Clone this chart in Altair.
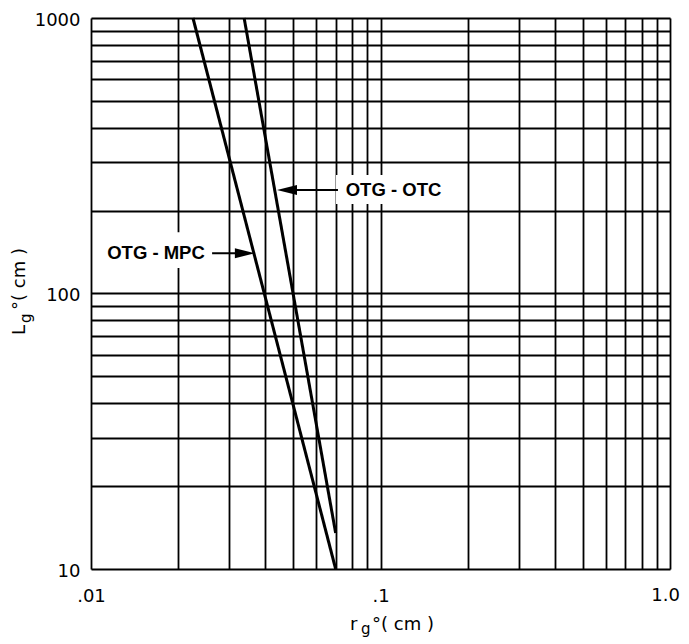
import altair as alt
import pandas as pd

# ---- data ----
x_grid = [0.01, 0.02, 0.03, 0.04, 0.05, 0.06, 0.07, 0.08, 0.09,
          0.1, 0.2, 0.3, 0.4, 0.5, 0.6, 0.7, 0.8, 0.9, 1.0]
y_grid = [10, 20, 30, 40, 50, 60, 70, 80, 90,
          100, 200, 300, 400, 500, 600, 700, 800, 900, 1000]

series = ["OTG-MPC", "OTG-MPC", "OTG-OTC", "OTG-OTC"]
r_vals = [0.0225, 0.070, 0.0338, 0.070]
L_vals = [1000, 10, 1000, 13.5]

# last x tick label drawn as its own text (kept inside the page)
end_label = ["1.0"]
end_r = [1.0]
end_L = [10]

# annotation labels (data coordinates)
label_text = ["OTG - MPC", "OTG - OTC"]
label_r = [0.01677, 0.1109]
label_L = [140, 237.5]
box_r1 = [0.01074, 0.0702]
box_r2 = [0.02576, 0.1766]
box_L1 = [123.8, 211.5]
box_L2 = [167, 269]
shaft_r1 = [0.0262, 0.04753]
shaft_r2 = [0.0340, 0.0713]
head_r = [0.0340, 0.04753]
head_dir = ["right", "left"]

FONT = "DejaVu Sans"
LBL_FONT = "Liberation Sans"


def xenc(field):
    return alt.X(
        f"{field}:Q",
        scale=alt.Scale(type="log", domain=[0.01, 1], nice=False),
        axis=alt.Axis(
            values=x_grid,
            labelExpr="datum.value == 0.01 ? '.01' : (datum.value == 0.1 ? '.1' : '')",
            grid=True, ticks=False, tickSize=0, domain=False, title=None,
            labelFlush=False, labelOverlap=False, labelPadding=18,
            labelFontSize=18, labelFont=FONT, labelColor="black",
            gridColor="black", gridWidth=1.8, gridOpacity=1,
        ),
    )


def yenc(field):
    return alt.Y(
        f"{field}:Q",
        scale=alt.Scale(type="log", domain=[10, 1000], nice=False),
        axis=alt.Axis(
            values=y_grid,
            labelExpr="(datum.value == 10 || datum.value == 100 || datum.value == 1000) ? '' + datum.value : ''",
            grid=True, ticks=False, tickSize=0, domain=False, title=None,
            labelOverlap=False, labelPadding=11, labelOffset=2,
            labelFontSize=18, labelFont=FONT, labelColor="black",
            gridColor="black", gridWidth=1.8, gridOpacity=1,
        ),
    )


lines_df = pd.DataFrame({"series": series, "r": r_vals, "L": L_vals})
ann_df = pd.DataFrame({
    "text": label_text, "r": label_r, "L": label_L,
    "br1": box_r1, "br2": box_r2, "bL1": box_L1, "bL2": box_L2,
    "sr1": shaft_r1, "sr2": shaft_r2, "hr": head_r, "dir": head_dir,
})
end_df = pd.DataFrame({"t": end_label, "r": end_r, "L": end_L})

lines = alt.Chart(lines_df).mark_line(color="black", strokeWidth=3).encode(
    x=xenc("r"), y=yenc("L"), detail="series:N"
)

boxes = alt.Chart(ann_df).mark_rect(fill="white", stroke=None).encode(
    x=xenc("br1"), x2="br2", y=yenc("bL1"), y2="bL2"
)

shafts = alt.Chart(ann_df).mark_rule(color="black", strokeWidth=2).encode(
    x=xenc("sr1"), x2="sr2", y=yenc("L")
)

heads_right = alt.Chart(ann_df).transform_filter("datum.dir == 'right'").mark_point(
    shape="M-1,-0.5L1,0L-1,0.5Z", filled=True, size=400, color="black", opacity=1
).encode(x=xenc("hr"), y=yenc("L"))

heads_left = alt.Chart(ann_df).transform_filter("datum.dir == 'left'").mark_point(
    shape="M1,-0.5L-1,0L1,0.5Z", filled=True, size=400, color="black", opacity=1
).encode(x=xenc("hr"), y=yenc("L"))

labels = alt.Chart(ann_df).mark_text(
    font=LBL_FONT, fontSize=18.5, fontWeight="bold", color="black", align="center", baseline="middle"
).encode(x=xenc("r"), y=yenc("L"), text="text:N")

end_tick = alt.Chart(end_df).mark_text(
    font=FONT, fontSize=18, color="black", align="right", baseline="top", dx=10, dy=18
).encode(x=xenc("r"), y=yenc("L"), text="t:N")


# axis titles built from pieces (subscript g)
def piece(txt, x, y, size=18, dy=0, angle=0):
    return alt.Chart(pd.DataFrame({"t": [txt]})).mark_text(
        font=FONT, fontSize=size, color="black", align="left", baseline="middle",
        dy=dy, angle=angle
    ).encode(x=alt.value(x), y=alt.value(y), text="t:N")


xt1 = piece("r", 259, 607)
xt2 = piece("g", 270, 607, size=15, dy=4)
xt3 = piece("°( cm )", 281, 607)

yt1 = piece("L", -71, 317, angle=270)
yt2 = piece("g", -71, 305, size=15, dy=6, angle=270)
yt3 = piece("°( cm )", -71, 292, angle=270)

chart = alt.layer(
    lines, boxes, shafts, heads_right, heads_left, labels, end_tick,
    xt1, xt2, xt3, yt1, yt2, yt3
).properties(
    width=579, height=551,
    autosize=alt.AutoSizeParams(type="none"),
    padding={"left": 83, "top": 10, "right": 11, "bottom": 76},
).configure_view(
    stroke="black", strokeWidth=3
).configure(background="white")

chart.save("out.html", embed_options={"renderer": "svg", "actions": False})
